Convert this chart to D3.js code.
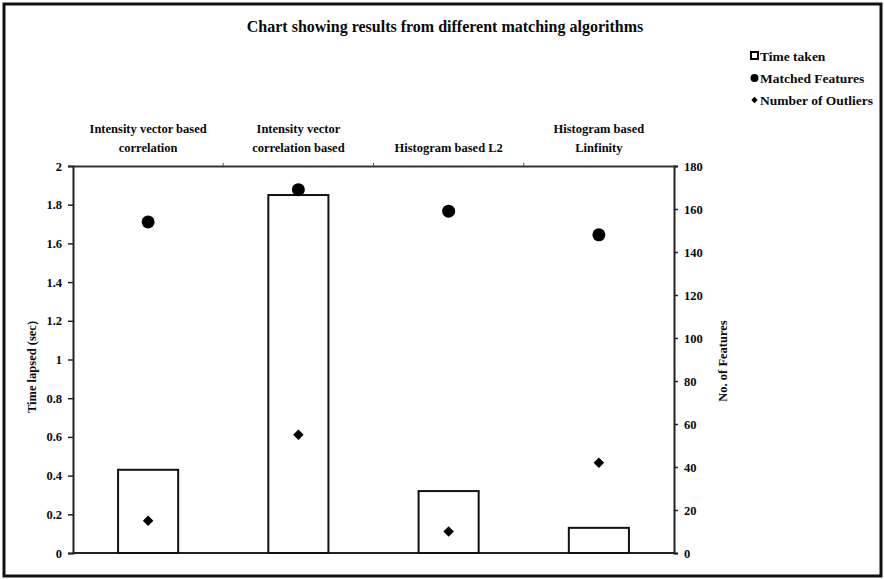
<!DOCTYPE html>
<html>
<head>
<meta charset="utf-8">
<script src="https://cdn.jsdelivr.net/npm/d3@7/dist/d3.min.js"></script>
<style>
  html, body { margin: 0; padding: 0; background: #fff; }
  svg text { font-family: "Liberation Serif", "Times New Roman", serif; font-weight: bold; fill: #0a0a0a; }
</style>
</head>
<body>
<svg id="chart" width="884" height="579"></svg>
<script>
// Algorithms compared
const categories = [
  ["Intensity vector based", "correlation"],
  ["Intensity vector", "correlation based"],
  ["Histogram based L2"],
  ["Histogram based", "Linfinity"]
];
// Time taken per algorithm (sec), left axis
const timeTaken = [0.43, 1.85, 0.32, 0.13];
// Matched features and outliers, right axis
const matchedFeatures = [154, 169, 159, 148];
const outliers = [15, 55, 10, 42];
const leftTicks = [0, 0.2, 0.4, 0.6, 0.8, 1, 1.2, 1.4, 1.6, 1.8, 2];
const rightTicks = [0, 20, 40, 60, 80, 100, 120, 140, 160, 180];
const legendLabels = ["Time taken", "Matched Features", "Number of Outliers"];

const svg = d3.select("#chart");
const plotLeft = 73, plotRight = 674, plotTop = 166, plotBottom = 553;

// Outer frame
svg.append("rect").attr("x", 4).attr("y", 4).attr("width", 877).attr("height", 572)
  .attr("fill", "none").attr("stroke", "#111").attr("stroke-width", 3);

svg.append("text").attr("x", 445).attr("y", 32).attr("text-anchor", "middle")
  .attr("font-size", 16).text("Chart showing results from different matching algorithms");

const idx = categories.map((d, i) => i);
const x = d3.scaleBand().domain(idx).range([plotLeft, plotRight]).paddingInner(0.6).paddingOuter(0.3);
const xOuter = d3.scaleBand().domain(idx).range([plotLeft, plotRight]);
const yL = d3.scaleLinear().domain([0, 2]).range([plotBottom, plotTop]);
const yR = d3.scaleLinear().domain([0, 180]).range([plotBottom, plotTop]);

// Left axis
const gL = svg.append("g").attr("transform", `translate(${plotLeft},0)`)
  .call(d3.axisLeft(yL).tickValues(leftTicks).tickSize(5).tickPadding(6).tickFormat(d3.format("")));
// Right axis
const gR = svg.append("g").attr("transform", `translate(${plotRight},0)`)
  .call(d3.axisRight(yR).tickValues(rightTicks).tickSize(4).tickPadding(6));
[gL, gR].forEach(g => {
  g.select(".domain").attr("stroke", "#222").attr("stroke-width", 2);
  g.selectAll(".tick line").attr("stroke", "#222").attr("stroke-width", 1.5);
  g.selectAll(".tick text").attr("font-size", 12.5).attr("font-family", "Liberation Serif").attr("font-weight", "bold").attr("fill", "#0a0a0a");
});

// Category axis along the top, with boundary ticks
const gT = svg.append("g").attr("transform", `translate(0,${plotTop})`)
  .call(d3.axisTop(xOuter).tickSize(0).tickFormat(""));
gT.select(".domain").attr("stroke", "#333").attr("stroke-width", 2);
gT.selectAll(".bound").data(idx.slice(1)).enter().append("line")
  .attr("x1", d => xOuter(d)).attr("x2", d => xOuter(d)).attr("y1", 0).attr("y2", -3)
  .attr("stroke", "#555").attr("stroke-width", 1);

// Bottom baseline
svg.append("line").attr("x1", plotLeft).attr("x2", plotRight).attr("y1", yL(0)).attr("y2", yL(0))
  .attr("stroke", "#222").attr("stroke-width", 2);

// Category labels, bottom aligned above the top axis
categories.forEach((lines, i) => {
  const cx = xOuter(i) + xOuter.bandwidth() / 2;
  lines.forEach((t, j) => {
    svg.append("text").attr("x", cx).attr("y", 152 - (lines.length - 1 - j) * 19)
      .attr("text-anchor", "middle").attr("font-size", 12.5).text(t);
  });
});

// Axis titles
svg.append("text").attr("transform", "translate(36,367) rotate(-90)")
  .attr("text-anchor", "middle").attr("font-size", 12.5).text("Time lapsed (sec)");
svg.append("text").attr("transform", "translate(727,361) rotate(-90)")
  .attr("text-anchor", "middle").attr("font-size", 12.5).text("No. of Features");

// Time bars
svg.selectAll(".bar").data(timeTaken).enter().append("rect")
  .attr("x", (d, i) => x(i)).attr("width", x.bandwidth())
  .attr("y", d => yL(d)).attr("height", d => yL(0) - yL(d))
  .attr("fill", "#fff").attr("stroke", "#111").attr("stroke-width", 2);

// Matched features
svg.selectAll(".mf").data(matchedFeatures).enter().append("circle")
  .attr("cx", (d, i) => x(i) + x.bandwidth() / 2).attr("cy", d => yR(d)).attr("r", 6.5)
  .attr("fill", "#000");

// Outliers
const diamond = d3.symbol().type(d3.symbolDiamond2).size(70);
svg.selectAll(".ol").data(outliers).enter().append("path")
  .attr("d", diamond)
  .attr("transform", (d, i) => `translate(${x(i) + x.bandwidth() / 2},${yR(d)})`)
  .attr("fill", "#000");

// Legend
const lg = svg.append("g");
const ly = [56, 78, 100];
lg.append("rect").attr("x", 751).attr("y", ly[0] - 4).attr("width", 7).attr("height", 7)
  .attr("fill", "#fff").attr("stroke", "#000").attr("stroke-width", 2);
lg.append("circle").attr("cx", 754.5).attr("cy", ly[1]).attr("r", 4).attr("fill", "#000");
lg.append("path").attr("d", d3.symbol().type(d3.symbolDiamond2).size(26))
  .attr("transform", `translate(754.5,${ly[2]})`).attr("fill", "#000");
legendLabels.forEach((t, i) => {
  lg.append("text").attr("x", 760).attr("y", ly[i] + 5).attr("font-size", 13.5).text(t);
});
</script>
</body>
</html>
